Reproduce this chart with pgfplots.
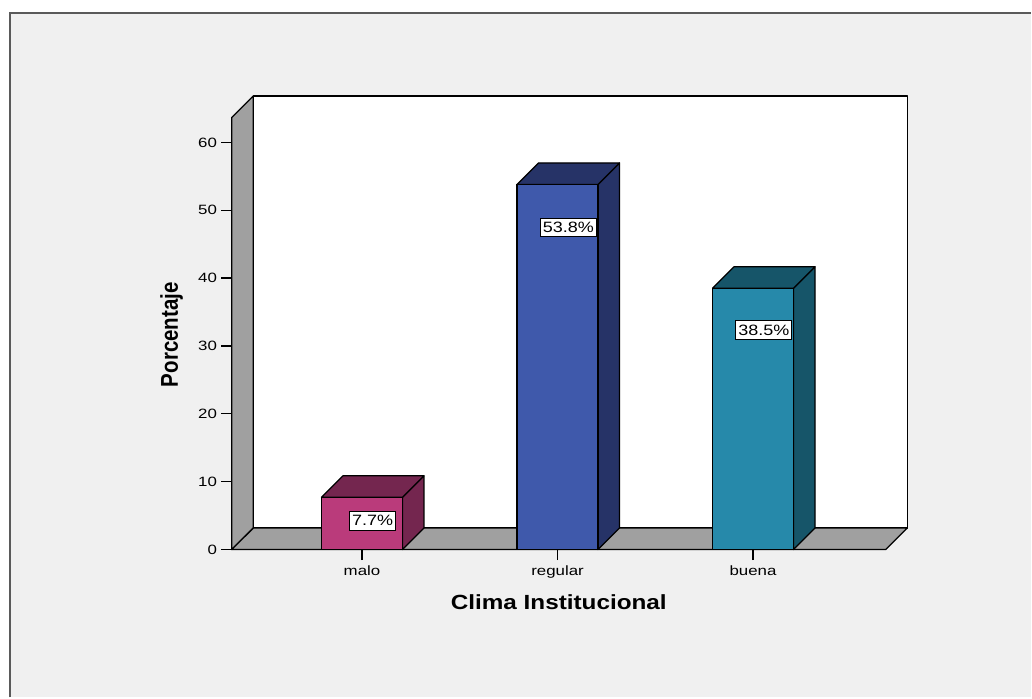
\documentclass[border=0pt]{standalone}
\usepackage{pgfplots}
\pgfplotsset{compat=1.18}
\usepackage{fontspec}
\setmainfont{Liberation Sans}

\definecolor{panel}{HTML}{F0F0F0}
\definecolor{frameline}{HTML}{5A5A5A}
\definecolor{wallgray}{HTML}{A0A0A0}
\definecolor{maloF}{HTML}{BA3B7B}
\definecolor{maloD}{HTML}{74264F}
\definecolor{regF}{HTML}{3F59AB}
\definecolor{regD}{HTML}{263367}
\definecolor{bueF}{HTML}{2689AA}
\definecolor{bueD}{HTML}{165569}

% depth of the 3-D extrusion and bar geometry, in axis units
\def\dx{0.1099}
\def\dy{3.166}
\def\bw{0.414}
\def\xlo{0.3342}
\def\xhi{3.6786}
\def\yhi{63.68}

% side and top faces of a bar centred at #1 with height #2, colour #3
\newcommand\barfaces[3]{%
  \pgfmathsetmacro\xa{#1-\bw/2}%
  \pgfmathsetmacro\xb{#1+\bw/2}%
  \pgfmathsetmacro\xc{#1-\bw/2+\dx}%
  \pgfmathsetmacro\xd{#1+\bw/2+\dx}%
  \pgfmathsetmacro\yt{#2+\dy}%
  \addplot[fill=#3, draw=black, line width=1.2pt, line join=round, mark=none]
    coordinates {(\xb,0) (\xd,\dy) (\xd,\yt) (\xb,#2)} -- cycle;
  \addplot[fill=#3, draw=black, line width=1.2pt, line join=round, mark=none]
    coordinates {(\xa,#2) (\xc,\yt) (\xd,\yt) (\xb,#2)} -- cycle;
}

\begin{document}
\begin{tikzpicture}[x=1pt,y=1pt]
% page background and frame
\fill[white] (0,0) rectangle (1032,-698);
\fill[panel] (10,-13.3) rectangle (1032,-698);
\draw[frameline, line width=1.8pt] (10,-698) -- (10,-13.3) -- (1032,-13.3);

\begin{axis}[
  at={(232pt,-550pt)}, anchor=south west,
  scale only axis, width=654.5pt, height=432.5pt,
  xmin=\xlo, xmax=\xhi, ymin=0, ymax=\yhi,
  clip=false,
  axis lines=left, axis line style={draw=none},
  xtick={1,2,3}, xticklabels={malo,regular,buena},
  ytick={0,10,...,60},
  tick align=outside, major tick length=10.5pt,
  tick style={black, line width=1.2pt},
  minor tick num=0,
  /pgf/number format/assume math mode=true,
  tick label style={font=\fontsize{13.5}{14}\selectfont, xscale=1.25},
  xticklabel style={yshift=-2.5pt},
  xlabel={Clima Institucional},
  ylabel={Porcentaje},
  xlabel style={at={(axis description cs:0.5,-0.1387)}, anchor=base,
    font=\bfseries\fontsize{20.5}{21}\selectfont, xscale=1.185},
  ylabel style={at={(axis description cs:-0.0921,0.497)}, anchor=center,
    font=\bfseries\fontsize{20.5}{21}\selectfont, yscale=1.185},
  value label/.style={
    nodes near coords={\pgfmathprintnumber[fixed,precision=1,fixed zerofill]{\pgfplotspointmeta}\%},
    every node near coord/.append style={anchor=center, xshift=10.75pt, yshift=#1,
      fill=white, draw=black, line width=0.8pt, inner xsep=2pt, inner ysep=0pt,
      minimum height=19pt, text=black,
      font=\fontsize{15}{15}\selectfont, xscale=1.2}},
]
\pgfmathsetmacro\xL{\xlo+\dx}
\pgfmathsetmacro\xR{\xhi+\dx}
\pgfmathsetmacro\yT{\yhi+\dy}
% back wall
\addplot[fill=white, draw=black, line width=1.3pt, line join=round, mark=none]
  coordinates {(\xL,\dy) (\xR,\dy) (\xR,\yT) (\xL,\yT)} -- cycle;
% left wall
\addplot[fill=wallgray, draw=black, line width=1.3pt, line join=round, mark=none]
  coordinates {(\xlo,0) (\xL,\dy) (\xL,\yT) (\xlo,\yhi)} -- cycle;
% floor
\addplot[fill=wallgray, draw=black, line width=1.3pt, line join=round, mark=none]
  coordinates {(\xlo,0) (\xhi,0) (\xR,\dy) (\xL,\dy)} -- cycle;

% malo
\barfaces{1}{7.7}{maloD}
\addplot[ybar, bar width=\bw, bar shift=0pt, fill=maloF, draw=black,
  line width=1.2pt, value label=-23.5pt] coordinates {(1,7.7)};
% regular
\barfaces{2}{53.8}{regD}
\addplot[ybar, bar width=\bw, bar shift=0pt, fill=regF, draw=black,
  line width=1.2pt, value label=-43pt] coordinates {(2,53.8)};
% buena
\barfaces{3}{38.5}{bueD}
\addplot[ybar, bar width=\bw, bar shift=0pt, fill=bueF, draw=black,
  line width=1.2pt, value label=-42pt] coordinates {(3,38.5)};
\end{axis}
\end{tikzpicture}
\end{document}
